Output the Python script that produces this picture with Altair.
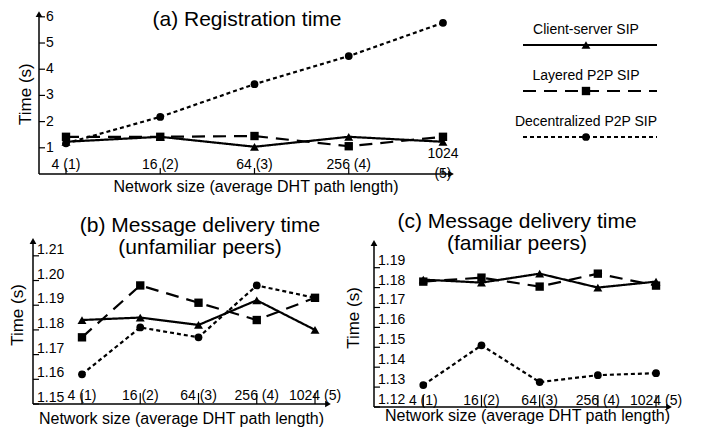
import altair as alt
import pandas as pd

# ---------------- data ----------------
sizes = [1, 2, 3, 4, 5]
size_labels = ["4 (1)", "16 (2)", "64 (3)", "256 (4)", "1024 (5)"]
size_labels_a = ["4 (1)", "16 (2)", "64 (3)", "256 (4)", "1024\n(5)"]
series = ["Client-server SIP", "Layered P2P SIP", "Decentralized P2P SIP"]

reg_client = [1.23, 1.42, 1.04, 1.42, 1.23]
reg_layered = [1.42, 1.42, 1.45, 1.06, 1.42]
reg_decent = [1.17, 2.18, 3.43, 4.50, 5.77]

unf_client = [1.184, 1.185, 1.182, 1.192, 1.180]
unf_layered = [1.177, 1.198, 1.191, 1.184, 1.193]
unf_decent = [1.162, 1.181, 1.177, 1.198, 1.193]

fam_client = [1.184, 1.1825, 1.187, 1.180, 1.183]
fam_layered = [1.183, 1.185, 1.1805, 1.187, 1.181]
fam_decent = [1.131, 1.151, 1.1325, 1.136, 1.137]

ticks_a = [1, 2, 3, 4, 5, 6]
ticks_b = [1.15, 1.16, 1.17, 1.18, 1.19, 1.20, 1.21]
ticks_c = [1.12, 1.13, 1.14, 1.15, 1.16, 1.17, 1.18, 1.19]
tick_text_b = ["1.15", "1.16", "1.17", "1.18", "1.19", "1.20", "1.21"]
tick_text_c = ["1.12", "1.13", "1.14", "1.15", "1.16", "1.17", "1.18", "1.19"]

titles = {
    "a": "(a) Registration time",
    "b": "(b) Message delivery time\n(unfamiliar peers)",
    "c": "(c) Message delivery time\n(familiar peers)",
}
x_title = "Network size (average DHT path length)"
y_title = "Time (s)"

FONT = "Liberation Sans"
dash_scale = alt.Scale(domain=series, range=[[1, 0], [13, 8], [4, 3]])
shape_scale = alt.Scale(domain=series, range=["triangle-up", "square", "circle"])


def panel(cfg):
    xd, xr, yd, yr = cfg["xd"], cfg["xr"], cfg["yd"], cfg["yr"]
    xlo, xhi = xd
    ylo, yhi = yd
    ppx = (xr[1] - xr[0]) / (xhi - xlo)
    ppy = (yr[0] - yr[1]) / (yhi - ylo)
    xs = alt.Scale(domain=xd, range=xr, nice=False, zero=False)
    ys = alt.Scale(domain=yd, range=yr, nice=False, zero=False)

    def X(f):
        return alt.X(f, type="quantitative", scale=xs, axis=None)

    def Y(f):
        return alt.Y(f, type="quantitative", scale=ys, axis=None)

    df = pd.DataFrame({
        "size": sizes * 3,
        "series": [s for s in series for _ in sizes],
        "value": cfg["client"] + cfg["layered"] + cfg["decent"],
    })
    lines = alt.Chart(df).mark_line(color="black", strokeWidth=2.2).encode(
        x=X("size"), y=Y("value"),
        strokeDash=alt.StrokeDash("series:N", scale=dash_scale, legend=None),
        detail="series:N",
    )
    pts = alt.Chart(df).mark_point(filled=True, color="black", opacity=1).encode(
        x=X("size"), y=Y("value"),
        shape=alt.Shape("series:N", scale=shape_scale, legend=None),
        size=alt.Size("series:N", scale=alt.Scale(domain=series, range=cfg["msize"]), legend=None),
    )
    axes_df = pd.DataFrame({"x": [xlo, xlo], "y": [ylo, ylo], "x2": [xlo, xhi], "y2": [yhi, ylo]})
    axes = alt.Chart(axes_df).mark_rule(color="black", strokeWidth=1.5).encode(
        x=X("x"), y=Y("y"), x2="x2", y2="y2")
    arr_df = pd.DataFrame({"x": [xlo, xhi], "y": [yhi, ylo], "shape": ["triangle-up", "triangle-right"]})
    arrows = alt.Chart(arr_df).mark_point(filled=True, color="black", opacity=1, size=45).encode(
        x=X("x"), y=Y("y"), shape=alt.Shape("shape:N", scale=None))

    yt_df = pd.DataFrame({"y": cfg["ticks"], "x": xlo, "x2": xlo + 6 / ppx, "t": cfg["tick_text"]})
    yticks = alt.Chart(yt_df).mark_rule(color="black", strokeWidth=1.2).encode(
        x=X("x"), x2="x2", y=Y("y"))
    ylabels = alt.Chart(yt_df).mark_text(
        font=FONT, fontSize=14, align="left", baseline="middle",
        dx=cfg["ylab_dx"], dy=cfg["ylab_dy"], color="black").encode(
        x=X("x"), y=Y("y"), text="t:N")

    xt_df = pd.DataFrame({"x": sizes, "y": ylo, "y2": ylo + cfg["xtick_len"] / ppy,
                          "t": cfg["xlabels"]})
    xticks = alt.Chart(xt_df).mark_rule(color="black", strokeWidth=1.2).encode(
        x=X("x"), y=Y("y"), y2="y2")
    single = xt_df[~xt_df["t"].str.contains("\n")]
    multi = xt_df[xt_df["t"].str.contains("\n")]
    layers = [axes, arrows, yticks, xticks, lines, pts, ylabels]
    layers.append(alt.Chart(single).mark_text(
        font=FONT, fontSize=14, align="center", baseline="alphabetic",
        dy=cfg["xlab_dy"], color="black").encode(x=X("x"), y=Y("y"), text="t:N"))
    if len(multi):
        layers.append(alt.Chart(multi).mark_text(
            font=FONT, fontSize=14, align="center", baseline="alphabetic", lineBreak="\n",
            lineHeight=20, dy=cfg["xlab_dy_multi"], color="black").encode(
            x=X("x"), y=Y("y"), text="t:N"))

    ann = pd.DataFrame({"x": [(xlo + xhi) / 2], "y": [yhi], "ylo": [ylo],
                        "ymid": [(ylo + yhi) / 2], "xlo": [xlo],
                        "title": [cfg["title"]], "xt": [x_title], "yt": [y_title]})
    layers.append(alt.Chart(ann).mark_text(
        font=FONT, fontSize=21, align="center", baseline="alphabetic", lineBreak="\n",
        lineHeight=22, dx=cfg["t_dx"], dy=cfg["t_dy"], color="black").encode(
        x=X("x"), y=Y("y"), text="title:N"))
    layers.append(alt.Chart(ann).mark_text(
        font=FONT, fontSize=16, align="center", baseline="alphabetic",
        dx=cfg["xt_dx"], dy=cfg["xt_dy"], color="black").encode(
        x=X("x"), y=Y("ylo"), text="xt:N"))
    layers.append(alt.Chart(ann).mark_text(
        font=FONT, fontSize=17, align="center", baseline="middle", angle=270,
        dx=cfg["yt_dx"], dy=cfg["yt_dy"], color="black").encode(
        x=X("xlo"), y=Y("ymid"), text="yt:N"))
    return alt.layer(*layers)


cfg_a = dict(xd=[0.7135, 5.085], xr=[31, 443], yd=[0, 6.1], yr=[166, 6.2],
             client=reg_client, layered=reg_layered, decent=reg_decent,
             ticks=ticks_a, tick_text=[str(t) for t in ticks_a],
             ylab_dx=7, ylab_dy=0, xtick_len=6, xlabels=size_labels_a,
             xlab_dy=-5, xlab_dy_multi=-16, msize=[80, 60, 65],
             title=titles["a"], t_dx=2, t_dy=12, xt_dx=11, xt_dy=18, yt_dx=0, yt_dy=-13)
cfg_b = dict(xd=[0.159, 5.223], xr=[25, 320], yd=[1.15, 1.216], yr=[396, 233],
             client=unf_client, layered=unf_layered, decent=unf_decent,
             ticks=ticks_b, tick_text=tick_text_b,
             ylab_dx=4, ylab_dy=-6, xtick_len=11, xlabels=size_labels,
             xlab_dy=-4, xlab_dy_multi=-4, msize=[110, 85, 90],
             title=titles["b"], t_dx=19.5, t_dy=-9, xt_dx=1, xt_dy=20, yt_dx=7.5, yt_dy=-15)
cfg_c = dict(xd=[0.153, 5.223], xr=[366, 661], yd=[1.12, 1.2024], yr=[399, 235],
             client=fam_client, layered=fam_layered, decent=fam_decent,
             ticks=ticks_c, tick_text=tick_text_c,
             ylab_dx=4, ylab_dy=-7, xtick_len=12, xlabels=size_labels,
             xlab_dy=-2, xlab_dy_multi=-2, msize=[110, 85, 90],
             title=titles["c"], t_dx=-4.5, t_dy=-15, xt_dx=6, xt_dy=14, yt_dx=7, yt_dy=-20)

# ---------------- legend ----------------
leg_x = alt.Scale(domain=[0, 1], range=[515, 649], nice=False, zero=False)
leg_y = alt.Scale(type="point", domain=series, range=[37, 129], padding=0)
leg_df = pd.DataFrame({"series": series, "x0": 0.0, "x1": 1.0, "xm": 0.47})
LX = lambda f: alt.X(f, type="quantitative", scale=leg_x, axis=None)
LY = alt.Y("series:N", scale=leg_y, axis=None, sort=series)
leg_lines = alt.Chart(leg_df).mark_rule(color="black", strokeWidth=2.2).encode(
    x=LX("x0"), x2="x1", y=LY,
    strokeDash=alt.StrokeDash("series:N", scale=dash_scale, legend=None))
leg_pts = alt.Chart(leg_df).mark_point(filled=True, color="black", opacity=1).encode(
    x=LX("xm"), y=LY,
    shape=alt.Shape("series:N", scale=shape_scale, legend=None),
    size=alt.Size("series:N", scale=alt.Scale(domain=series, range=[100, 75, 90]), legend=None))
leg_txt = alt.Chart(leg_df).mark_text(
    font=FONT, fontSize=14, align="center", baseline="middle", dy=-15, color="black").encode(
    x=LX("xm"), y=LY, text="series:N")
legend = alt.layer(leg_lines, leg_pts, leg_txt)

chart = alt.layer(panel(cfg_a), panel(cfg_b), panel(cfg_c), legend).resolve_scale(
    x="independent", y="independent"
).properties(
    width=685, height=422, padding=0, autosize=alt.AutoSizeParams(type="none"),
    background="white",
).configure_view(stroke=None)

chart.save("out.html", embed_options={"renderer": "svg", "actions": False})
